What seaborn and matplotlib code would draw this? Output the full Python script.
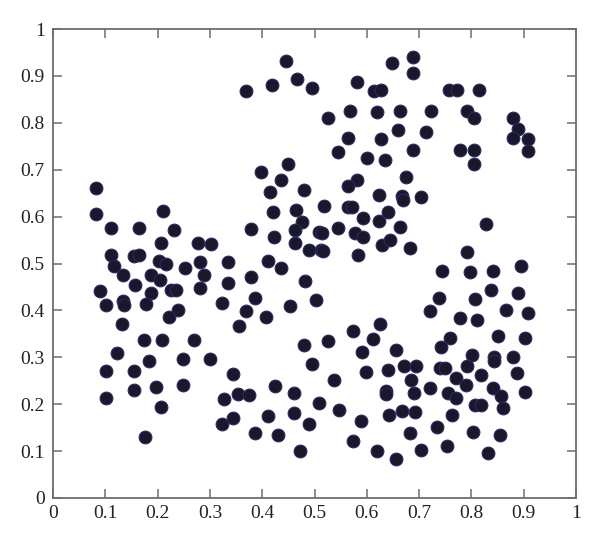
import matplotlib
matplotlib.use("Agg")
import matplotlib.pyplot as plt
import seaborn as sns
import pandas as pd

# data
x_vals = [
    0.082, 0.082, 0.111, 0.164, 0.211, 0.231, 0.111, 0.117, 0.154, 0.164, 0.133, 0.207, 0.202, 0.216, 0.187, 0.205, 0.157,
    0.252, 0.277, 0.282, 0.289, 0.302, 0.281, 0.090, 0.101, 0.134, 0.136, 0.187, 0.178, 0.226, 0.236, 0.239, 0.222, 0.132,
    0.174, 0.208, 0.270, 0.122, 0.183, 0.249, 0.300, 0.101, 0.154, 0.154, 0.196, 0.249, 0.101, 0.206, 0.175,
    0.545, 0.601, 0.450, 0.398, 0.435, 0.582, 0.565, 0.623, 0.415, 0.479, 0.518, 0.565, 0.572, 0.420, 0.465, 0.593,
    0.623, 0.477, 0.378, 0.462, 0.509, 0.514, 0.545, 0.578, 0.592, 0.423, 0.462, 0.489, 0.512, 0.517, 0.584, 0.630,
    0.412, 0.436, 0.335, 0.378, 0.335, 0.481, 0.387, 0.324, 0.502, 0.369, 0.407, 0.454, 0.356, 0.574, 0.625,
    0.479, 0.526, 0.612, 0.591, 0.495, 0.345, 0.598, 0.537, 0.424, 0.327, 0.354, 0.375, 0.461, 0.509, 0.546, 0.461,
    0.412, 0.324, 0.345, 0.489, 0.589, 0.386, 0.430, 0.574, 0.472, 0.619,
    0.649, 0.689, 0.689, 0.582, 0.614, 0.627, 0.758, 0.772, 0.815, 0.568, 0.620, 0.663, 0.722, 0.791, 0.805, 0.880,
    0.890, 0.880, 0.909, 0.909, 0.660, 0.713, 0.565, 0.628, 0.689, 0.778, 0.805, 0.805, 0.634, 0.674, 0.667, 0.669,
    0.703, 0.641,
    0.663, 0.827, 0.644, 0.682, 0.791, 0.744, 0.797, 0.841, 0.894, 0.837, 0.890, 0.739, 0.806, 0.721, 0.866, 0.908,
    0.778, 0.811, 0.759, 0.851, 0.903,
    0.741, 0.656, 0.801, 0.844, 0.844, 0.880, 0.641, 0.672, 0.695, 0.740, 0.749, 0.791, 0.887, 0.685, 0.771, 0.818,
    0.789, 0.841, 0.721, 0.637, 0.637, 0.691, 0.755, 0.771, 0.857, 0.903, 0.807, 0.819, 0.860, 0.643, 0.667, 0.693,
    0.762, 0.683, 0.735, 0.803, 0.855, 0.656, 0.704, 0.753, 0.831,
    0.446, 0.369, 0.419, 0.466, 0.495, 0.526,
]
y_vals = [
    0.662, 0.605, 0.576, 0.576, 0.611, 0.572, 0.519, 0.494, 0.516, 0.519, 0.476, 0.543, 0.506, 0.499, 0.476, 0.465, 0.454,
    0.491, 0.543, 0.504, 0.476, 0.542, 0.448, 0.442, 0.411, 0.419, 0.412, 0.437, 0.414, 0.444, 0.444, 0.400, 0.385, 0.370,
    0.337, 0.337, 0.337, 0.310, 0.293, 0.297, 0.297, 0.271, 0.271, 0.230, 0.237, 0.241, 0.214, 0.194, 0.130,
    0.738, 0.726, 0.713, 0.696, 0.679, 0.677, 0.665, 0.645, 0.652, 0.657, 0.623, 0.620, 0.620, 0.609, 0.615, 0.596,
    0.590, 0.589, 0.573, 0.571, 0.568, 0.566, 0.576, 0.565, 0.556, 0.556, 0.543, 0.529, 0.528, 0.526, 0.519, 0.539,
    0.506, 0.491, 0.504, 0.471, 0.459, 0.462, 0.427, 0.416, 0.422, 0.398, 0.385, 0.410, 0.366, 0.357, 0.371,
    0.327, 0.334, 0.338, 0.311, 0.286, 0.265, 0.268, 0.252, 0.239, 0.212, 0.221, 0.219, 0.223, 0.203, 0.187, 0.182,
    0.175, 0.157, 0.171, 0.158, 0.164, 0.138, 0.134, 0.122, 0.100, 0.100,
    0.927, 0.940, 0.907, 0.887, 0.867, 0.870, 0.871, 0.871, 0.871, 0.825, 0.823, 0.825, 0.825, 0.825, 0.811, 0.811,
    0.786, 0.767, 0.766, 0.740, 0.784, 0.780, 0.768, 0.766, 0.743, 0.743, 0.743, 0.712, 0.721, 0.684, 0.643, 0.635,
    0.641, 0.609,
    0.578, 0.585, 0.551, 0.534, 0.525, 0.483, 0.481, 0.484, 0.495, 0.443, 0.438, 0.426, 0.424, 0.399, 0.401, 0.394,
    0.384, 0.380, 0.341, 0.345, 0.341,
    0.323, 0.316, 0.304, 0.300, 0.293, 0.300, 0.273, 0.281, 0.281, 0.278, 0.278, 0.282, 0.266, 0.251, 0.255, 0.262,
    0.241, 0.235, 0.234, 0.229, 0.222, 0.224, 0.223, 0.214, 0.218, 0.225, 0.198, 0.198, 0.192, 0.177, 0.186, 0.184,
    0.177, 0.139, 0.152, 0.140, 0.135, 0.083, 0.103, 0.110, 0.097,
    0.932, 0.868, 0.881, 0.893, 0.875, 0.811,
]
tick_values = [0, 0.1, 0.2, 0.3, 0.4, 0.5, 0.6, 0.7, 0.8, 0.9, 1]
tick_labels = ["0", "0.1", "0.2", "0.3", "0.4", "0.5", "0.6", "0.7", "0.8", "0.9", "1"]

df = pd.DataFrame({"x": x_vals, "y": y_vals})

sns.set_style("ticks")
plt.rcParams["font.family"] = ["Liberation Serif", "DejaVu Serif"]

fig = plt.figure(figsize=(6.0, 5.42), dpi=100)
ax = fig.add_axes([53 / 600, 44 / 542, 523 / 600, 469 / 542])

sns.scatterplot(data=df, x="x", y="y", ax=ax, s=84, color="#19182a",
                edgecolor="#2c2860", linewidth=0.8, legend=False, zorder=3)

ax.set_xlim(0, 1)
ax.set_ylim(0, 1)
ax.set_xticks(tick_values)
ax.set_xticklabels(tick_labels)
ax.set_yticks(tick_values)
ax.set_yticklabels(tick_labels)
ax.set_xlabel("")
ax.set_ylabel("")

spine_col = "#6e6e6e"
for sp in ax.spines.values():
    sp.set_visible(True)
    sp.set_color(spine_col)
    sp.set_linewidth(1.3)

ax.tick_params(axis="both", which="both", direction="in", length=6.5, width=1.1,
               color=spine_col, labelsize=14, labelcolor="#222222",
               top=True, right=True)
ax.tick_params(axis="x", pad=5)
ax.tick_params(axis="y", pad=6)

fig.savefig("out.png", dpi=100)
